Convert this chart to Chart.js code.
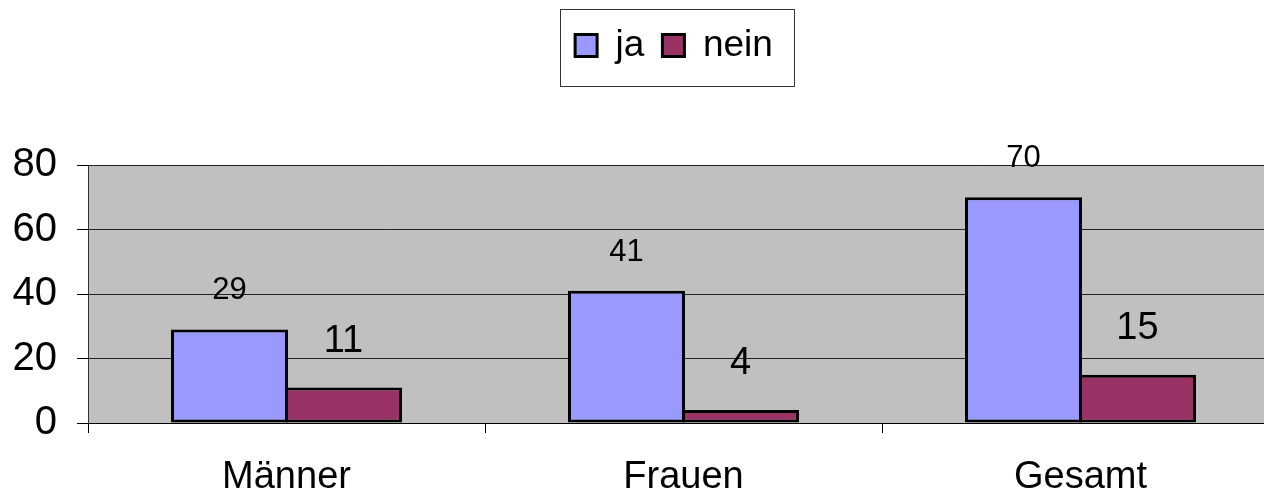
<!DOCTYPE html>
<html>
<head>
<meta charset="utf-8">
<script src="https://cdn.jsdelivr.net/npm/chart.js@4/dist/chart.umd.min.js"></script>
<style>
html,body{margin:0;padding:0;overflow:hidden;background:#fff;width:1264px;height:496px}
canvas{display:block}
</style>
</head>
<body>
<canvas id="c" width="1279" height="496" style="width:1279px;height:496px"></canvas>
<script>
const categories = ['Männer', 'Frauen', 'Gesamt'];
const seriesNames = ['ja', 'nein'];
const jaValues = [29, 41, 70];
const neinValues = [11, 4, 15];
const yTickValues = [0, 20, 40, 60, 80];

const FONT = '"Liberation Sans", Arial, Helvetica, sans-serif';

const plotBg = {
  id: 'plotBg',
  beforeDraw(chart) {
    const {ctx, chartArea: a} = chart;
    ctx.save();
    ctx.fillStyle = '#C0C0C0';
    ctx.fillRect(a.left, a.top, a.right - a.left, a.bottom - a.top);
    ctx.restore();
  }
};

const legendTweak = {
  id: 'legendTweak',
  afterInit(chart) {
    const lg = chart.legend;
    const fit = lg.fit.bind(lg);
    lg.fit = function () { fit(); if (this.options.display) this.height = 156; };
  },
  afterLayout(chart) {
    const lg = chart.legend;
    const dx = 674 - (lg.left + lg.right) / 2;
    lg.left += dx;
    lg.right += dx;
  },
  afterDraw(chart) {
    const hb = chart.legend.legendHitBoxes;
    if (!hb || !hb.length) return;
    const first = hb[0], last = hb[hb.length - 1];
    const x0 = Math.round(first.left - 15) + 0.5;
    const x1 = Math.round(last.left + last.width + 21) + 0.5;
    const y0 = Math.round(first.top - 18) + 0.5;
    const y1 = Math.round(first.top + first.height + 22) + 0.5;
    const ctx = chart.ctx;
    ctx.save();
    ctx.strokeStyle = '#333';
    ctx.lineWidth = 1;
    ctx.strokeRect(x0, y0, x1 - x0, y1 - y0);
    ctx.restore();
  }
};

const valueLabels = {
  id: 'valueLabels',
  afterDatasetsDraw(chart, args, opts) {
    const ctx = chart.ctx;
    chart.data.datasets.forEach((ds, i) => {
      const meta = chart.getDatasetMeta(i);
      const st = opts.styles[i];
      meta.data.forEach((el, j) => {
        ctx.save();
        ctx.font = st.size + 'px ' + FONT;
        ctx.fillStyle = '#000';
        ctx.textAlign = 'center';
        ctx.textBaseline = 'alphabetic';
        ctx.fillText(String(ds.data[j]), el.x, el.y - st.offset);
        ctx.restore();
      });
    });
  }
};

new Chart(document.getElementById('c'), {
  type: 'bar',
  data: {
    labels: categories,
    datasets: [
      {
        label: seriesNames[0],
        data: jaValues,
        backgroundColor: '#9999FF',
        borderColor: '#000000',
        borderWidth: 3,
        borderSkipped: false,
        categoryPercentage: 0.5743,
        barPercentage: 1.0263
      },
      {
        label: seriesNames[1],
        data: neinValues,
        backgroundColor: '#993366',
        borderColor: '#000000',
        borderWidth: 3,
        borderSkipped: false,
        categoryPercentage: 0.5743,
        barPercentage: 1.0263
      }
    ]
  },
  options: {
    responsive: false,
    animation: false,
    devicePixelRatio: 1,
    layout: { padding: { top: 9, left: 0, right: 0, bottom: 0 } },
    plugins: {
      legend: {
        display: true,
        position: 'top',
        align: 'center',
        labels: {
          font: { family: FONT, size: 37 },
          color: '#000',
          boxWidth: 22,
          boxHeight: 22,
          padding: 18
        }
      },
      tooltip: { enabled: false },
      valueLabels: {
        styles: [
          { size: 31, offset: 30 },
          { size: 38, offset: 36 }
        ]
      }
    },
    scales: {
      x: {
        offset: true,
        grid: {
          offset: true,
          drawOnChartArea: false,
          drawTicks: true,
          tickLength: 10,
          tickColor: '#000',
          color: '#000'
        },
        border: { display: true, color: '#000', width: 1 },
        ticks: {
          font: { family: FONT, size: 38 },
          color: '#000',
          padding: 22,
          maxRotation: 0
        },
        afterFit(s) { s.height = 73; }
      },
      y: {
        min: 0,
        max: 80,
        afterBuildTicks(s) { s.ticks = yTickValues.map(v => ({ value: v })); },
        grid: {
          drawOnChartArea: true,
          color: '#222',
          lineWidth: 1,
          drawTicks: true,
          tickLength: 11,
          tickColor: '#000'
        },
        border: { display: true, color: '#333', width: 1 },
        ticks: {
          font: { family: FONT, size: 40 },
          color: '#000',
          padding: 20
        },
        afterFit(s) { s.width = 88; }
      }
    }
  },
  plugins: [plotBg, legendTweak, valueLabels]
});
</script>
</body>
</html>
